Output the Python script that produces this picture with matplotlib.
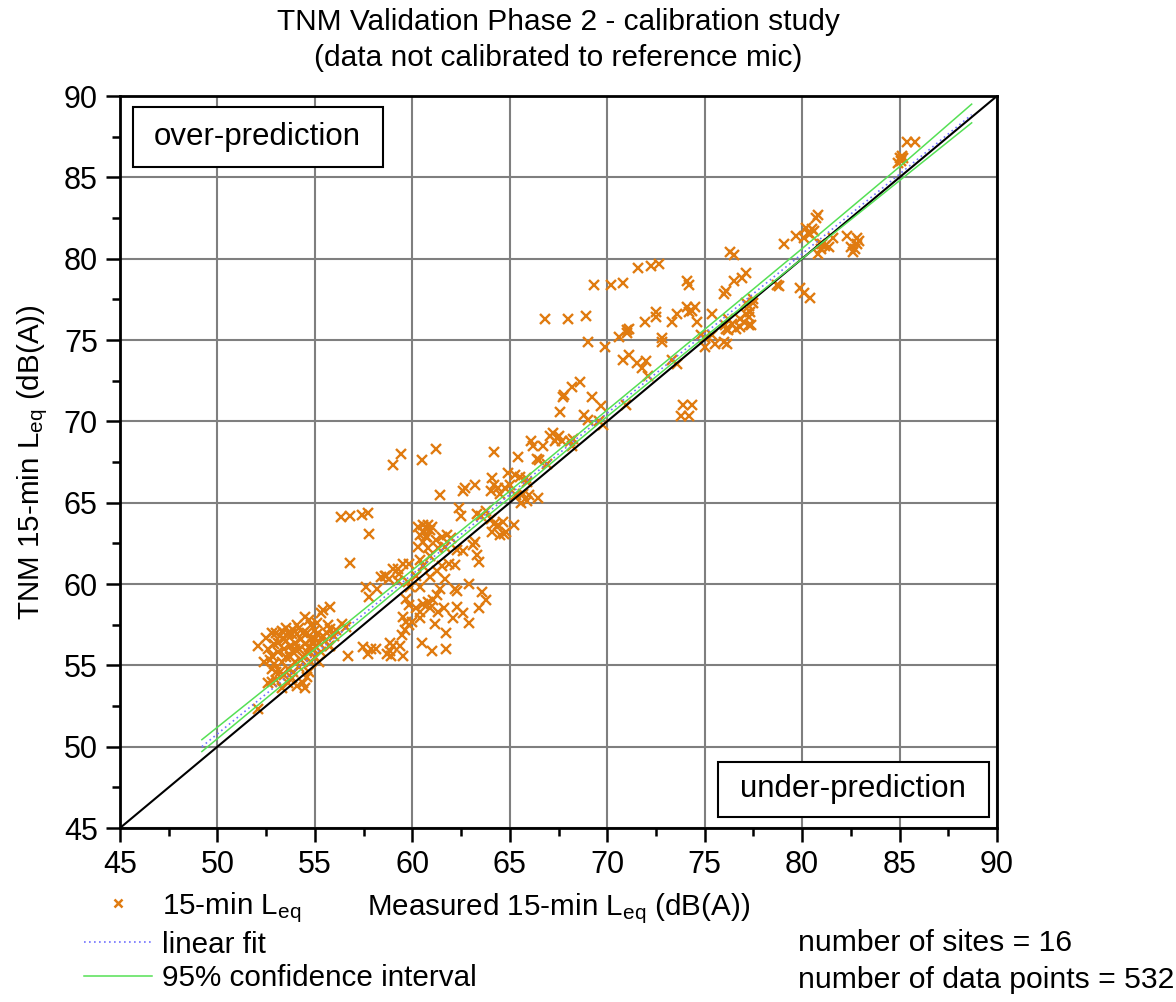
import numpy as np
import matplotlib
matplotlib.use("Agg")
import matplotlib.pyplot as plt
from matplotlib.lines import Line2D
from matplotlib.patches import Rectangle

plt.rcParams['font.family'] = ['Liberation Sans', 'DejaVu Sans']
plt.rcParams['mathtext.default'] = 'regular'

# measured vs TNM predicted 15-min Leq (dB(A))
site_52_56 = [
    (52.1, 56.2), (52.5, 56.7), (52.8, 57.0), (53.0, 57.0), (53.2, 56.8), (53.6, 57.0),
    (53.8, 56.9), (54.2, 57.3), (54.5, 58.0), (54.7, 57.8), (54.8, 57.5), (55.0, 57.2),
    (55.1, 56.9), (54.3, 56.6), (54.0, 56.4), (53.7, 56.2), (53.4, 56.0), (53.1, 55.8),
    (52.8, 55.6), (53.5, 55.5), (53.9, 55.8), (54.2, 56.0), (54.5, 56.3), (54.8, 56.6),
    (55.2, 56.4), (55.4, 56.8), (55.6, 57.0), (54.6, 55.8), (54.9, 56.0), (55.3, 55.8),
    (54.0, 55.2), (53.6, 54.8), (54.4, 55.5), (53.3, 55.2), (52.7, 55.3), (52.4, 55.2),
    (53.0, 54.6), (52.8, 54.8), (53.2, 54.6), (53.4, 54.4), (52.8, 54.0), (53.0, 54.1),
    (54.2, 54.9), (54.4, 53.9), (54.5, 53.6), (53.3, 53.6), (52.1, 52.3), (54.7, 54.6),
    (55.2, 55.2), (52.6, 53.9), (53.8, 54.2), (54.1, 53.7), (53.6, 53.9), (55.0, 55.5),
    (54.6, 57.0), (53.9, 57.2), (53.5, 56.5), (52.9, 56.3), (55.7, 56.2), (55.8, 58.6),
    (55.3, 58.2), (55.4, 58.4), (56.1, 57.15), (56.4, 57.55), (56.6, 57.35), (55.65, 57.45),
    (55.8, 57.25), (55.75, 56.2), (56.7, 55.55), (54.1, 56.9), (53.3, 57.1), (54.9, 56.3),
    (53.1, 56.4), (53.5, 57.3), (54.4, 57.0), (54.0, 56.0), (54.7, 56.1), (55.0, 56.6),
    (53.7, 55.5), (54.3, 55.3), (54.8, 55.2), (53.9, 54.6), (52.6, 56.0), (52.9, 55.1),
    (55.5, 56.5), (56.0, 56.8), (54.6, 54.3), (55.1, 57.6), (53.4, 56.6), (54.1, 57.5),
]
site_56_62 = [
    (56.35, 64.1), (56.8, 64.2), (57.4, 64.25), (57.7, 64.35), (57.8, 63.1), (56.8, 61.3),
    (60.3, 63.5), (60.55, 63.6), (60.8, 63.6), (60.9, 63.3), (60.6, 63.2), (60.4, 63.0),
    (60.7, 62.9), (60.55, 62.6), (60.3, 62.3), (60.8, 62.2), (61.2, 62.7), (61.3, 62.2),
    (61.5, 62.9), (61.7, 62.3), (59.0, 60.9), (59.25, 60.9), (59.5, 61.2), (59.85, 61.2),
    (60.4, 61.5), (60.9, 61.7), (60.55, 61.1), (58.65, 60.5), (58.4, 60.4), (58.8, 60.3),
    (59.25, 60.2), (59.8, 60.1), (59.9, 59.8), (60.4, 59.8), (60.2, 60.5), (60.9, 60.4),
    (61.25, 60.8), (61.5, 61.1), (61.7, 60.3), (61.4, 59.7), (61.25, 59.3), (57.6, 59.8),
    (57.8, 59.2), (58.2, 59.7), (59.7, 59.1), (59.85, 58.7), (60.2, 58.5), (60.55, 58.8),
    (60.8, 58.9), (61.05, 59.0), (60.9, 58.5), (61.3, 58.3), (61.6, 58.5), (59.5, 57.95),
    (59.7, 57.65), (59.85, 57.45), (60.0, 57.65), (59.6, 57.15), (59.45, 56.85), (60.4, 58.3),
    (60.4, 57.9), (61.15, 57.55), (61.75, 57.0), (58.85, 56.4), (58.85, 55.9), (58.7, 55.7),
    (59.0, 56.2), (59.35, 56.2), (59.5, 55.6), (58.9, 55.6), (60.5, 56.4), (61.0, 55.9),
    (61.75, 56.0), (57.45, 56.1), (57.9, 56.0), (58.15, 56.0), (57.7, 55.7),
    (62.3, 58.6), (62.6, 58.2), (62.9, 57.6), (63.4, 58.5), (63.8, 59.0), (62.1, 57.9),
]
site_58_68 = [
    (68.2, 72.1), (67.8, 71.6), (67.6, 70.6), (59.4, 68.0), (59.0, 67.3), (60.5, 67.6),
    (61.2, 68.3), (64.2, 68.1), (65.4, 67.8), (66.1, 68.8), (66.2, 68.5), (66.7, 68.5),
    (66.4, 67.7), (66.5, 67.6), (66.9, 67.4), (67.05, 69.1), (67.2, 69.3), (67.4, 69.0),
    (67.5, 69.1), (67.3, 68.8), (67.7, 68.8), (68.25, 68.9), (68.2, 68.5), (64.9, 66.8),
    (65.25, 66.7), (65.5, 66.6), (65.85, 66.5), (65.9, 66.3), (64.1, 66.5), (64.2, 66.1),
    (64.4, 65.9), (64.05, 65.7), (64.5, 65.55), (64.75, 65.9), (65.0, 66.1), (63.2, 66.1),
    (62.7, 65.9), (62.6, 65.7), (61.4, 65.5), (65.3, 65.45), (65.6, 65.0), (65.9, 65.1),
    (66.0, 65.45), (66.45, 65.3), (65.7, 65.55), (62.4, 64.7), (62.5, 64.2), (63.3, 64.3),
    (63.5, 64.2), (63.8, 64.5), (64.05, 64.0), (64.2, 63.7), (64.4, 63.6), (64.65, 63.8),
    (64.8, 63.2), (64.5, 63.0), (65.2, 63.6), (64.1, 63.2), (64.7, 63.1), (62.0, 62.8),
    (62.3, 62.1), (62.6, 62.0), (63.1, 62.4), (63.2, 62.6), (63.3, 61.8), (63.4, 61.35),
    (61.9, 61.25), (62.2, 61.15), (58.6, 60.5), (59.3, 60.6), (62.2, 59.7), (62.3, 59.6),
    (62.9, 60.0), (63.6, 59.5), (61.0, 63.5), (61.8, 63.0), (60.75, 62.9),
]
site_66_74 = [
    (71.6, 79.45), (72.24, 79.55), (72.67, 79.65), (69.3, 78.4), (70.2, 78.4), (70.8, 78.5),
    (66.8, 76.3), (68.0, 76.3), (68.9, 76.5), (72.5, 76.7), (72.5, 76.4), (71.95, 76.1),
    (73.3, 76.1), (73.6, 76.6), (70.6, 75.2), (71.0, 75.6), (71.1, 75.7), (71.0, 75.4),
    (69.0, 74.85), (69.9, 74.6), (72.8, 75.15), (72.8, 74.85), (70.8, 73.8), (71.1, 74.1),
    (71.55, 73.6), (71.8, 73.3), (72.0, 73.7), (72.1, 72.8), (73.3, 73.8), (73.6, 73.5),
    (68.6, 72.4), (69.2, 71.5), (69.7, 70.95), (68.8, 70.4), (69.0, 70.1), (69.6, 70.0),
    (69.8, 69.8), (68.1, 68.8), (70.95, 71.0), (67.75, 71.5),
]
site_74_79 = [
    (76.3, 80.4), (76.5, 80.2), (74.1, 78.6), (74.2, 78.4), (77.1, 79.1), (76.9, 78.8),
    (76.5, 78.6), (76.1, 78.0), (76.0, 77.8), (78.7, 78.4), (78.8, 78.3), (74.1, 77.0),
    (74.35, 76.8), (74.5, 77.0), (74.2, 76.7), (74.6, 76.1), (75.4, 76.6), (76.2, 76.3),
    (76.06, 75.9), (76.4, 76.0), (76.8, 76.3), (77.1, 76.6), (77.3, 76.4), (77.35, 76.7),
    (77.0, 76.1), (76.8, 75.8), (76.6, 75.7), (76.2, 75.6), (76.1, 75.7), (77.3, 75.9),
    (77.4, 75.9), (77.5, 77.5), (74.8, 75.3), (75.0, 75.1), (75.0, 74.55), (75.55, 74.75),
    (76.0, 74.85), (76.15, 74.75), (75.4, 75.3), (77.3, 77.1), (77.5, 77.3), (77.1, 77.3),
    (73.9, 71.0), (74.35, 71.0), (73.8, 70.3), (74.2, 70.3),
]
site_79_86 = [
    (80.8, 82.7), (80.7, 82.5), (80.2, 81.9), (80.5, 81.8), (80.3, 81.6), (79.7, 81.4),
    (80.1, 81.3), (80.4, 81.5), (80.6, 81.7), (79.05, 80.9), (80.9, 80.9), (81.0, 80.9),
    (81.2, 80.8), (81.4, 80.7), (80.95, 80.6), (80.8, 80.3), (81.6, 81.3), (82.3, 81.4),
    (82.5, 80.7), (82.7, 80.6), (82.8, 81.3), (82.9, 81.1), (82.8, 80.9), (82.6, 80.4),
    (79.9, 78.2), (80.1, 77.9), (80.4, 77.6), (85.4, 87.15), (85.8, 87.15), (84.9, 85.9),
    (85.0, 86.2), (85.1, 86.3), (85.2, 86.2), (85.05, 86.0),
]

# linear fit and 95% confidence band, read at a few x positions
fit_x = [49.2, 55.0, 60.0, 65.0, 70.0, 75.0, 80.0, 85.0, 88.7]
fit_y = [50.0, 55.7, 60.6, 65.5, 70.5, 75.4, 80.3, 85.2, 88.85]
ci_upper = [50.43, 56.0, 60.85, 65.72, 70.7, 75.65, 80.62, 85.65, 89.5]
ci_lower = [49.7, 55.45, 60.4, 65.3, 70.3, 75.18, 80.0, 84.8, 88.35]

points = np.array(site_52_56 + site_56_62 + site_58_68 + site_66_74 + site_74_79 + site_79_86)

fig = plt.figure(figsize=(11.76, 10.02), dpi=100)
ax = fig.add_axes([120 / 1176, 1 - 828 / 1002, 877 / 1176, 732 / 1002])

orange = '#e07b10'
blue = '#7070ff'
green = '#55e055'
ax.plot([45, 90], [45, 90], color='black', lw=1.5, zorder=3)
ax.plot(fit_x, fit_y, color=blue, lw=1.2, ls=(0, (1, 2)), zorder=4)
ax.plot(fit_x, ci_upper, color=green, lw=1.1, zorder=4)
ax.plot(fit_x, ci_lower, color=green, lw=1.1, zorder=4)
ax.plot(points[:, 0], points[:, 1], ls='none', marker='x', color=orange,
        ms=7, mew=1.7, zorder=2)

ax.set_xlim(45, 90)
ax.set_ylim(45, 90)
ax.set_xticks(np.arange(45, 91, 5))
ax.set_yticks(np.arange(45, 91, 5))
ax.set_xticks(np.arange(47.5, 90, 5), minor=True)
ax.set_yticks(np.arange(47.5, 90, 5), minor=True)
ax.grid(True, which='major', color='#7f7f7f', lw=1.5)
ax.set_axisbelow(True)
ax.tick_params(which='major', direction='out', length=10, width=1.8, labelsize=22, pad=6)
ax.tick_params(which='minor', direction='out', length=6, width=1.8)
for s in ax.spines.values():
    s.set_linewidth(2)

ax.set_xlabel('Measured 15-min $L_{eq}$ (dB(A))', fontsize=21.3, labelpad=8)
ax.set_ylabel('TNM 15-min $L_{eq}$ (dB(A))', fontsize=21.3, labelpad=10)

fig.text(558 / 1176, 1 - 22 / 1002, 'TNM Validation Phase 2 - calibration study',
         ha='center', va='center', fontsize=21.5)
fig.text(558 / 1176, 1 - 58 / 1002, '(data not calibrated to reference mic)',
         ha='center', va='center', fontsize=21.5)

# annotation boxes
ax.add_patch(Rectangle((0.0148, 0.903), 0.285, 0.082, transform=ax.transAxes,
                       fc='white', ec='black', lw=1.5, zorder=6))
ax.text(0.157, 0.944, 'over-prediction', transform=ax.transAxes, ha='center',
        va='center', fontsize=22.5, zorder=7)
ax.add_patch(Rectangle((0.682, 0.015), 0.309, 0.075, transform=ax.transAxes,
                       fc='white', ec='black', lw=1.5, zorder=6))
ax.text(0.836, 0.0526, 'under-prediction', transform=ax.transAxes, ha='center',
        va='center', fontsize=22.5, zorder=7)

handles = [
    Line2D([], [], ls='none', marker='x', color=orange, ms=6, mew=1.8),
    Line2D([], [], color=blue, lw=1.2, ls=(0, (1, 2))),
    Line2D([], [], color=green, lw=1.1),
]
fig.legend(handles, ['15-min $L_{eq}$', 'linear fit', '95% confidence interval'],
           loc='upper left', bbox_to_anchor=(84 / 1176, 1 - 890 / 1002),
           frameon=False, fontsize=21.3, handlelength=2.3, handletextpad=0.35,
           labelspacing=0.2, borderpad=0, borderaxespad=0)

fig.text(798 / 1176, 1 - 943 / 1002, 'number of sites = 16', fontsize=21.7, va='center')
fig.text(798 / 1176, 1 - 980 / 1002, 'number of data points = 532', fontsize=21.7, va='center')

fig.savefig('out.png', dpi=100)
